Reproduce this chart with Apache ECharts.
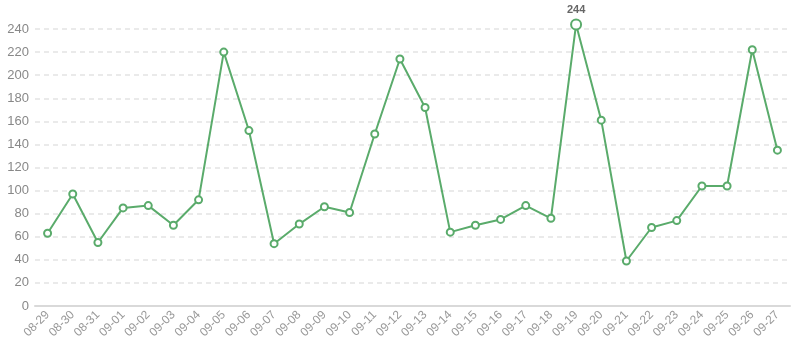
<!DOCTYPE html>
<html>
<head>
<meta charset="utf-8">
<script src="https://cdn.jsdelivr.net/npm/echarts@6/dist/echarts.min.js"></script>
<style>html,body{margin:0;padding:0;background:#fff}#c{width:800px;height:352px}</style>
</head>
<body>
<div id="c"></div>
<script>
var categories = ['08-29','08-30','08-31','09-01','09-02','09-03','09-04','09-05','09-06','09-07','09-08','09-09','09-10','09-11','09-12','09-13','09-14','09-15','09-16','09-17','09-18','09-19','09-20','09-21','09-22','09-23','09-24','09-25','09-26','09-27'];
var values = [63,97,55,85,87,70,92,220,152,54,71,86,81,149,214,172,64,70,75,87,76,244,161,39,68,74,104,104,222,135];
var yTicks = {min: 0, max: 240, interval: 20};

var maxVal = Math.max.apply(null, values);
var seriesData = values.map(function (v) {
  if (v === maxVal) {
    return {value: v, symbolSize: 10, label: {show: true, position: 'top', color: '#666', fontWeight: 'bold', fontSize: 11, distance: 3}};
  }
  return v;
});

var chart = echarts.init(document.getElementById('c'));
chart.setOption({
  animation: false,
  grid: {left: 35, right: 10, top: 29, bottom: 46},
  xAxis: {
    type: 'category',
    data: categories,
    boundaryGap: true,
    axisLine: {lineStyle: {color: '#d9d9d9', width: 2}},
    axisTick: {show: false},
    axisLabel: {rotate: 45, color: '#999', fontSize: 12, margin: 7, interval: 0, fontFamily: 'Liberation Sans, Arial, sans-serif'}
  },
  yAxis: {
    type: 'value',
    min: yTicks.min,
    max: yTicks.max,
    interval: yTicks.interval,
    axisLine: {show: false},
    axisTick: {show: false},
    axisLabel: {color: '#888', fontSize: 13, margin: 6, fontFamily: 'Liberation Sans, Arial, sans-serif'},
    splitLine: {lineStyle: {color: '#e3e3e3', type: [5, 4], width: 1.5}}
  },
  series: [{
    type: 'line',
    data: seriesData,
    clip: false,
    symbol: 'emptyCircle',
    symbolSize: 7,
    showAllSymbol: true,
    lineStyle: {color: '#5aab6b', width: 2},
    itemStyle: {color: '#5aab6b', borderWidth: 2}
  }]
});
</script>
</body>
</html>
